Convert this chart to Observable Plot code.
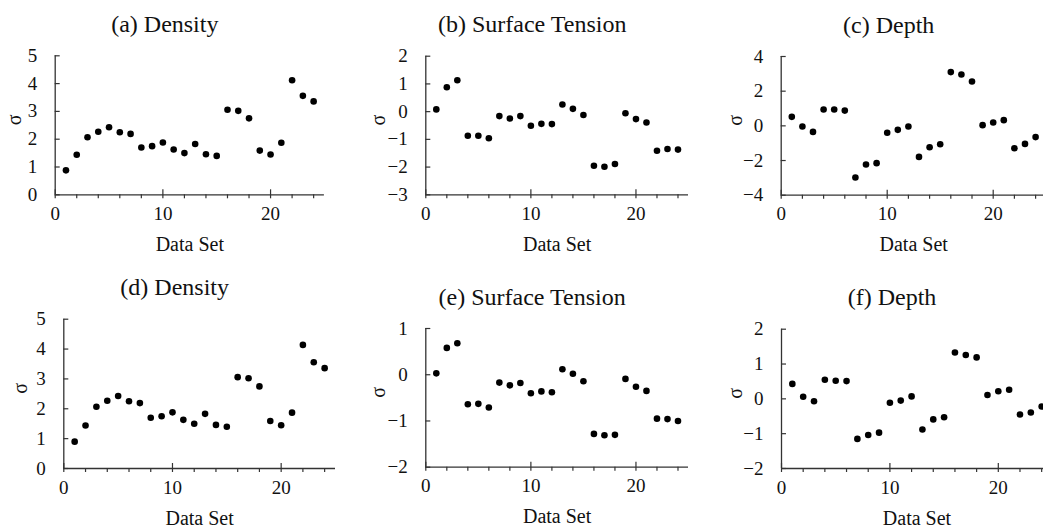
<!DOCTYPE html>
<html><head><meta charset="utf-8">
<script src="https://cdn.jsdelivr.net/npm/d3@7"></script>
<script src="https://cdn.jsdelivr.net/npm/@observablehq/plot@0.6"></script>
<style>
html,body{margin:0;padding:0;background:#fff;overflow:hidden;}
#chart{position:relative;width:1043px;height:527px;overflow:hidden;background:#fff;}
.panel{position:absolute;}
.panel svg{font-family:"Liberation Serif","Times New Roman",serif !important;max-width:none !important;}
.panel svg text{font-family:"Liberation Serif","Times New Roman",serif !important;}
</style></head><body><div id="chart"></div>
<script>
// ---- data ----
const dataSets = [1,2,3,4,5,6,7,8,9,10,11,12,13,14,15,16,17,18,19,20,21,22,23,24];
const densityA = [0.88,1.44,2.07,2.27,2.43,2.25,2.19,1.70,1.75,1.88,1.63,1.50,1.83,1.46,1.40,3.06,3.02,2.75,1.59,1.45,1.87,4.12,3.56,3.36];
const tensionB = [0.08,0.88,1.13,-0.87,-0.87,-0.96,-0.16,-0.25,-0.16,-0.51,-0.44,-0.45,0.26,0.10,-0.12,-1.95,-1.99,-1.89,-0.06,-0.27,-0.39,-1.41,-1.35,-1.37];
const depthC = [0.52,-0.04,-0.35,0.94,0.94,0.88,-2.98,-2.23,-2.15,-0.40,-0.23,-0.04,-1.79,-1.23,-1.06,3.10,2.96,2.56,0.04,0.19,0.33,-1.29,-1.04,-0.65];
const densityD = [0.90,1.44,2.07,2.27,2.43,2.25,2.19,1.70,1.75,1.88,1.63,1.50,1.83,1.46,1.40,3.06,3.02,2.75,1.59,1.45,1.87,4.14,3.56,3.36];
const tensionE = [0.03,0.58,0.68,-0.64,-0.63,-0.71,-0.17,-0.23,-0.18,-0.40,-0.36,-0.38,0.12,0.02,-0.14,-1.28,-1.31,-1.30,-0.09,-0.26,-0.35,-0.95,-0.96,-1.00];
const depthF = [0.43,0.06,-0.07,0.55,0.52,0.51,-1.15,-1.04,-0.97,-0.11,-0.05,0.07,-0.88,-0.59,-0.53,1.33,1.26,1.19,0.11,0.22,0.26,-0.45,-0.39,-0.22];

const titles = ["(a) Density","(b) Surface Tension","(c) Depth","(d) Density","(e) Surface Tension","(f) Depth"];
const xDomain = [0, 25];
const xMajorTicks = [0, 10, 20];
const xMinorTicks = [2, 4, 6, 8, 12, 14, 16, 18, 22, 24];
const yTicksA = [0, 1, 2, 3, 4, 5];
const yTicksB = [-3, -2, -1, 0, 1, 2];
const yTicksC = [-4, -2, 0, 2, 4];
const yTicksD = [0, 1, 2, 3, 4, 5];
const yTicksE = [-2, -1, 0, 1];
const yTicksF = [-2, -1, 0, 1, 2];
const xLabel = "Data Set";
const yLabel = "σ";

// ---- layout (pixels) ----
const layout = [
  {left:0,   top:0,   width:345, height:262, mL:54.7, mR:21.1, mT:55.3, mB:67.7, sx:-41},
  {left:345, top:0,   width:345, height:262, mL:80.3, mR:2,    mT:55.7, mB:67.7, sx:-47},
  {left:690, top:0,   width:365, height:262, mL:90.7, mR:9.3,  mT:56,   mB:67.3, sx:-46},
  {left:0,   top:262, width:345, height:265, mL:63.3, mR:10,   mT:56.7, mB:59,   sx:-43},
  {left:345, top:262, width:345, height:265, mL:80.3, mR:2,    mT:66,   mB:60.3, sx:-47},
  {left:690, top:262, width:370, height:265, mL:91,   mR:8,    mT:66.7, mB:59,   sx:-46}
];
const series = [densityA, tensionB, depthC, densityD, tensionE, depthF];
const yTicks = [yTicksA, yTicksB, yTicksC, yTicksD, yTicksE, yTicksF];

const axisColor = "#333";
const chart = document.getElementById("chart");

series.forEach((vals, i) => {
  const L = layout[i];
  const yt = yTicks[i];
  const plotW = L.width - L.mL - L.mR;
  const plotH = L.height - L.mT - L.mB;
  const rows = dataSets.map((s, j) => ({set: s, value: vals[j]}));
  const svg = Plot.plot({
    width: L.width, height: L.height,
    marginLeft: L.mL, marginRight: L.mR, marginTop: L.mT, marginBottom: L.mB,
    style: "font-family: 'Liberation Serif', 'Times New Roman', serif; font-size: 19px; color: #111; background: #fff; max-width: none; overflow: visible;",
    x: {domain: xDomain},
    y: {domain: [yt[0], yt[yt.length - 1]]},
    marks: [
      Plot.axisX(xMajorTicks, {tickSize: 0, tickPadding: 11.5, label: null, fontSize: 19}),
      Plot.axisY(yt, {tickSize: 0, tickPadding: 18, label: null, fontSize: 19}),
      Plot.ruleX([xDomain[0]], {stroke: axisColor, strokeWidth: 1.3}),
      Plot.ruleY([yt[0]], {stroke: axisColor, strokeWidth: 1.3}),
      Plot.tickX(xMinorTicks, {x: d => d, insetTop: plotH, insetBottom: -4, stroke: axisColor, strokeWidth: 1.2}),
      Plot.tickX(xMajorTicks, {x: d => d, insetTop: plotH - 5, insetBottom: -4, stroke: axisColor, strokeWidth: 1.2}),
      Plot.tickY(yt, {y: d => d, insetRight: plotW - 5, stroke: axisColor, strokeWidth: 1.2}),
      Plot.dot(rows, {x: "set", y: "value", r: 3.3, fill: "#000", stroke: "none"}),
      Plot.text([titles[i]], {text: d => d, frameAnchor: "top", lineAnchor: "bottom", dx: -25, dy: -24, fontSize: 24, fill: "#111"}),
      Plot.text([xLabel], {text: d => d, frameAnchor: "bottom", lineAnchor: "bottom", dy: 56, fontSize: 20, fill: "#111"}),
      Plot.text([yLabel], {text: d => d, frameAnchor: "left", rotate: -90, dx: L.sx, fontSize: 20, fill: "#111"})
    ]
  });
  const div = document.createElement("div");
  div.className = "panel";
  div.style.left = L.left + "px";
  div.style.top = L.top + "px";
  div.style.width = L.width + "px";
  div.style.height = L.height + "px";
  div.appendChild(svg);
  chart.appendChild(div);
});
</script></body></html>
